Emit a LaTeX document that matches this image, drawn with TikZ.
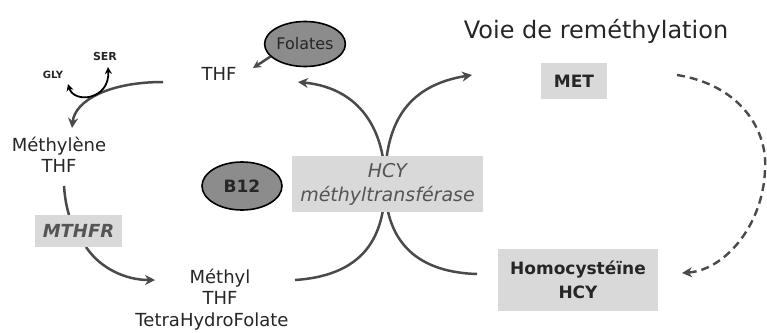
\documentclass[tikz,border=0pt]{standalone}
\usepackage{fontspec}
\setmainfont{DejaVu Sans}
\usetikzlibrary{arrows.meta,shapes.geometric}
\definecolor{boxgray}{HTML}{D9D9D9}
\definecolor{ellgray}{HTML}{8C8C8C}
\definecolor{linegray}{HTML}{4A4A4A}
\definecolor{txtdark}{HTML}{262626}
\definecolor{txtgray}{HTML}{555555}
\tikzset{
  lbl/.style={text=txtdark, font=\fontsize{18}{21}\selectfont, align=center, inner sep=0pt},
  graybox/.style={fill=boxgray, draw=none, inner sep=0pt, align=center},
  enzyme/.style={graybox, text=txtgray, font=\fontsize{19}{24}\selectfont\itshape},
  cofactor/.style={ellipse, draw=black, line width=1.6pt, fill=ellgray, inner sep=0pt},
  arr/.style={draw=linegray, line width=2.5pt, -{Stealth[length=10pt,width=10pt]}},
  plainline/.style={draw=linegray, line width=2.5pt},
  dasharr/.style={draw=linegray, line width=2.4pt, dash pattern=on 8pt off 5pt, -{Stealth[length=10pt,width=10pt]}},
  smallbold/.style={text=txtdark, font=\fontsize{11}{12}\selectfont\bfseries, inner sep=0pt}
}
\begin{document}
\begin{tikzpicture}[x=1pt,y=-1pt]
\useasboundingbox (0,0) rectangle (767,332);
% title
\node[text=txtdark, font=\fontsize{24}{28}\selectfont, inner sep=0pt] (title) at (596,31) {Voie de reméthylation};
% labels
\node[lbl] (thf) at (219,74) {THF};
\node[lbl] (methylene) at (59,155) {Méthylène\\THF};
\node[lbl] (methyl) at (220,287) {Méthyl\\THF};
\node[lbl] (tetra) at (212,322) {TetraHydroFolate};
\node[smallbold] (ser) at (105,56) {SER};
\node[smallbold, font=\fontsize{10}{12}\selectfont\bfseries] (gly) at (53,75) {GLY};
% curve endpoints
\coordinate (thfL) at (163,82);
\coordinate (methyleneTop) at (72,128);
\coordinate (glyEnd) at (68,84);
\coordinate (serEnd) at (108,67);
\coordinate (methyleneBot) at (64,186);
\coordinate (mthfrTop) at (69,215);
\coordinate (mthfrBot) at (86,247);
\coordinate (methylIn) at (155,280);
\coordinate (methylOut) at (295,280);
\coordinate (thfIn) at (298,82);
\coordinate (hcyOut) at (477,274);
\coordinate (metIn) at (472,75);
\coordinate (metOut) at (677,75);
\coordinate (hcyIn) at (682,273);
\coordinate (folEnd) at (253,68);
\coordinate (mid) at (385,183);
% folate cycle arcs
\draw[arr] (thfL) .. controls (110,82) and (75,100) .. (methyleneTop);
\draw[draw=black, line width=1.8pt, {Stealth[length=7pt,width=7pt]}-{Stealth[length=7pt,width=7pt]}] (glyEnd) .. controls (74,104) and (110,100) .. (serEnd);
\draw[plainline] (methyleneBot) .. controls (65,200) and (67,208) .. (mthfrTop);
\draw[arr] (mthfrBot) .. controls (100,268) and (125,280) .. (methylIn);
% crossing arcs
\draw[arr] (methylOut) .. controls (370,275) and (385,230) .. (mid) .. controls (385,130) and (360,88) .. (thfIn);
\draw[arr] (hcyOut) .. controls (410,272) and (385,235) .. (mid) .. controls (385,120) and (410,85) .. (metIn);
% dashed return
\draw[dasharr] (metOut) .. controls (740,85) and (768,130) .. (765,170) .. controls (763,225) and (725,270) .. (hcyIn);
% boxes
\node[enzyme, minimum width=191pt, minimum height=56pt] (hcymt) at (387.5,184) {HCY\\méthyltransférase};
\node[enzyme, font=\fontsize{18}{22}\selectfont\bfseries\itshape, minimum width=87pt, minimum height=32pt] (mthfr) at (78.5,231) {MTHFR};
\node[graybox, text=txtdark, font=\fontsize{17}{20}\selectfont\bfseries, minimum width=66pt, minimum height=36pt] (met) at (574,81) {MET};
\node[graybox, text=txtdark, font=\fontsize{17}{24}\selectfont\bfseries, minimum width=160pt, minimum height=62pt] (hcy) at (578,280) {Homocystéïne\\HCY};
% cofactors
\node[cofactor, minimum width=80pt, minimum height=48pt, text=txtdark, font=\fontsize{17}{20}\selectfont\bfseries] (b12) at (242,186) {B12};
\node[cofactor, minimum width=80pt, minimum height=45pt, text=txtdark, font=\fontsize{16}{20}\selectfont] (fol) at (305,44) {Folates};
\draw[arr, -{Stealth[length=8pt,width=8pt]}] (fol.200) -- (folEnd);
\end{tikzpicture}
\end{document}
